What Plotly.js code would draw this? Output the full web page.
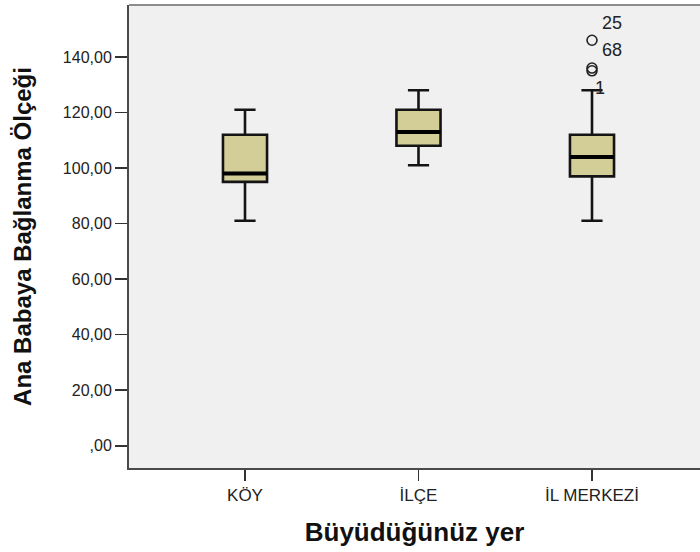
<!DOCTYPE html>
<html>
<head>
<meta charset="utf-8">
<script src="https://cdn.plot.ly/plotly-3.0.1.min.js"></script>
<style>html,body{margin:0;padding:0;background:#fff;}#chart{width:700px;height:552px;}</style>
</head>
<body>
<div id="chart"></div>
<script>
// Data
const categories = ["KÖY", "İLÇE", "İL MERKEZİ"];
const lowerWhisker = [81, 101, 81];
const q1Values = [95, 108, 97];
const medianValues = [98, 113, 104];
const q3Values = [112, 121, 112];
const upperWhisker = [121, 128, 128];

const outlierGroup = ["İL MERKEZİ", "İL MERKEZİ", "İL MERKEZİ"];
const outlierValues = [146, 136, 135];
const outlierCases = ["25", "68", "1"];

const yTickValues = [0, 20, 40, 60, 80, 100, 120, 140];
const yTickLabels = [",00", "20,00", "40,00", "60,00", "80,00", "100,00", "120,00", "140,00"];

const FONT = "Liberation Sans, Arial, sans-serif";
const BOX_WIDTH = 0.254;

const boxTrace = {
  type: "box",
  x: categories,
  q1: q1Values,
  median: medianValues,
  q3: q3Values,
  lowerfence: lowerWhisker,
  upperfence: upperWhisker,
  boxpoints: false,
  fillcolor: "#D3CE97",
  line: {color: "#141414", width: 2.6},
  width: BOX_WIDTH,
  whiskerwidth: 0.48,
  hoverinfo: "skip",
  showlegend: false
};

// thicker median bar drawn as a collapsed box at the median values
const medianTrace = {
  type: "box",
  x: categories,
  q1: medianValues,
  median: medianValues,
  q3: medianValues,
  lowerfence: medianValues,
  upperfence: medianValues,
  boxpoints: false,
  fillcolor: "rgba(0,0,0,0)",
  line: {color: "#000000", width: 4},
  width: BOX_WIDTH,
  whiskerwidth: 0,
  hoverinfo: "skip",
  showlegend: false
};

const outlierTrace = {
  type: "scatter",
  mode: "markers",
  x: outlierGroup,
  y: outlierValues,
  marker: {symbol: "circle-open", size: 10, color: "#222222", line: {width: 1.6, color: "#222222"}},
  hoverinfo: "skip",
  showlegend: false
};

// case-number labels next to the outliers (pixel offsets = style)
const labelShifts = [[20, 17], [20, 18], [8, -17]];
const annotations = outlierCases.map((c, i) => ({
  x: outlierGroup[i], y: outlierValues[i], xref: "x", yref: "y",
  text: c, showarrow: false,
  xshift: labelShifts[i][0], yshift: labelShifts[i][1],
  font: {family: FONT, size: 18, color: "#222222"}
}));

const layout = {
  width: 700,
  height: 552,
  margin: {l: 129, r: 0, t: 5, b: 84},
  paper_bgcolor: "#ffffff",
  plot_bgcolor: "#F0F0F0",
  boxmode: "overlay",
  font: {family: FONT, size: 18, color: "#222222"},
  xaxis: {
    type: "category",
    categoryarray: categories,
    range: [-0.6686, 2.6225],
    showgrid: false, zeroline: false,
    showline: true, linecolor: "#4a4a4a", linewidth: 2,
    ticks: "outside", ticklen: 11, tickwidth: 1.6, tickcolor: "#333333",
    tickfont: {family: FONT, size: 17, color: "#222222"},
    title: {text: "Büyüdüğünüz yer", font: {family: FONT, size: 26, color: "#111111", weight: "bold"}, standoff: 18}
  },
  yaxis: {
    range: [-8.03, 158.7],
    tickvals: yTickValues,
    ticktext: yTickLabels,
    showgrid: false, zeroline: false,
    showline: true, linecolor: "#4a4a4a", linewidth: 2,
    ticks: "outside", ticklen: 12, tickwidth: 1.6, tickcolor: "#333333",
    tickfont: {family: FONT, size: 16, color: "#222222"},
    title: {text: "Ana Babaya Bağlanma Ölçeği", font: {family: FONT, size: 24, color: "#111111", weight: "bold"}, standoff: 24}
  },
  shapes: [{
    type: "line", xref: "paper", yref: "paper", x0: 0, x1: 1, y0: 1, y1: 1,
    line: {color: "#8c8c8c", width: 2}
  }],
  annotations: annotations
};

Plotly.newPlot("chart", [boxTrace, medianTrace, outlierTrace], layout, {displayModeBar: false, staticPlot: true});
</script>
</body>
</html>
